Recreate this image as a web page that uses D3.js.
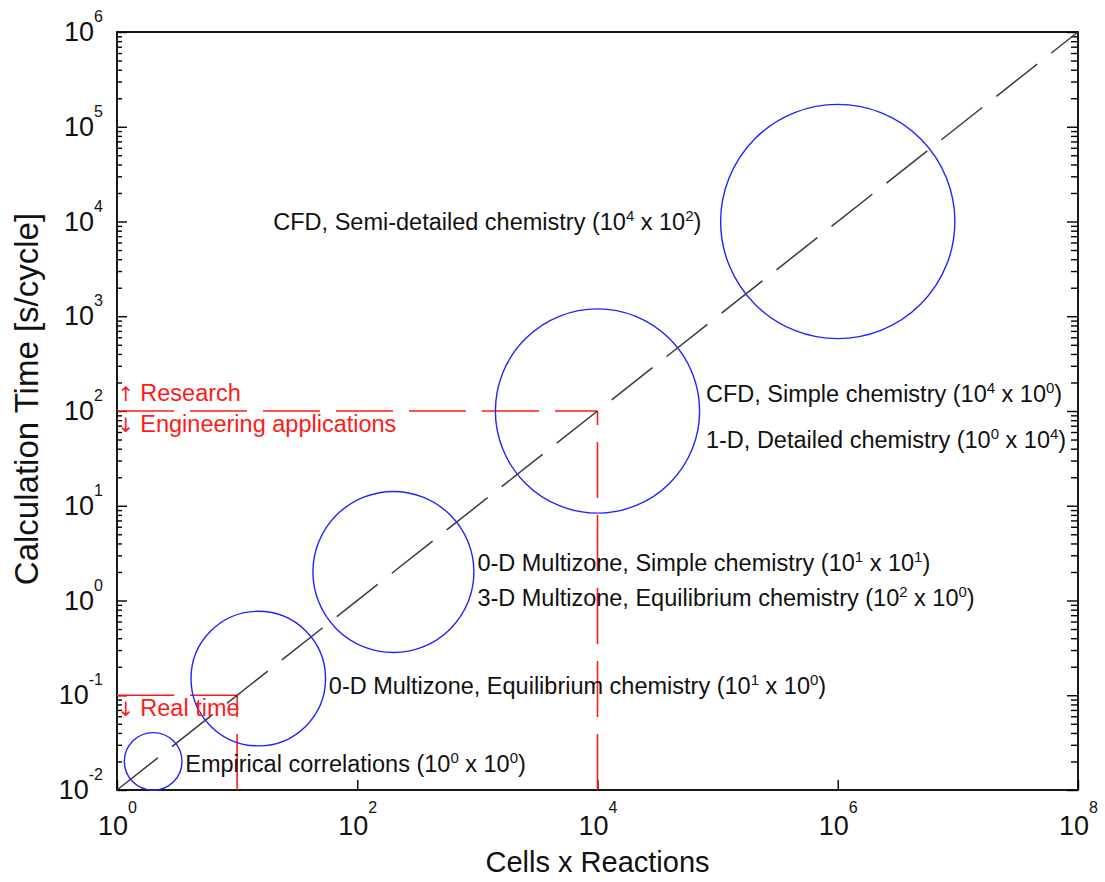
<!DOCTYPE html>
<html>
<head>
<meta charset="utf-8">
<script src="https://cdn.jsdelivr.net/npm/d3@7"></script>
<style>
  body { margin: 0; background: #fff; }
  text { font-family: "Liberation Sans", Arial, Helvetica, sans-serif; }
</style>
</head>
<body>
<div id="chart"></div>
<script>
/* data: bubbles in (cells x reactions, seconds per cycle) */
var bubbleX = [2, 15, 200, 1e4, 1e6];
var bubbleY = [0.02, 0.15, 2, 100, 1e4];
var bubbleR = [0.24, 0.56, 0.67, 0.85, 0.975]; /* radius, in decades of x */

/* trend line y = x / 100 */
var trendX = [1, 1e8];
var trendY = [0.01, 1e6];

/* limits: research / engineering at 1e4 cells, 1e2 s ; real time at 10, 0.1 s */
var limitX = [1e4, 10];
var limitY = [100, 0.1];

/* tick exponents */
var xTickExp = [0, 2, 4, 6, 8];
var yTickExp = [-2, -1, 0, 1, 2, 3, 4, 5, 6];
var minorMult = [2, 3, 4, 5, 6, 7, 8, 9];

/* annotation texts, anchored in data units (left / middle) */
var labelText = [
  "CFD, Semi-detailed chemistry (10^4 x 10^2)",
  "CFD, Simple chemistry (10^4 x 10^0)",
  "1-D, Detailed chemistry (10^0 x 10^4)",
  "0-D Multizone, Simple chemistry (10^1 x 10^1)",
  "3-D Multizone, Equilibrium chemistry (10^2 x 10^0)",
  "0-D Multizone, Equilibrium chemistry (10^1 x 10^0)",
  "Empirical correlations (10^0 x 10^0)"
];
var labelX = [20, 8e4, 8e4, 1e3, 1e3, 58, 3.7];
var labelY = [1e4, 150, 50, 2.5, 1.05, 0.125, 0.019];

var limitArrow = ["\u2191", "\u2193", "\u2193"];
var limitText = ["Research", "Engineering applications", "Real time"];
var limitTextX = [1.01, 1.01, 1.01];
var limitTextY = [155, 73, 0.073];

var xTitle = "Cells x Reactions";
var yTitle = "Calculation Time [s/cycle]";

/* setup */
var W = 1105, H = 882;
var padL = 117, padR = 1078, padT = 32, padB = 790;

var svg = d3.select("#chart").append("svg")
    .attr("width", W)
    .attr("height", H);

var x = d3.scaleLog().domain([1, 1e8]).range([padL, padR]);
var y = d3.scaleLog().domain([0.01, 1e6]).range([padB, padT]);

/* write "10^4" style strings with superscripts */
function rich(sel, str, supSize, raise) {
  var parts = str.split(/(\^-?\d+)/);
  var up = false;
  parts.forEach(function (p) {
    if (!p) return;
    if (p[0] === "^") {
      sel.append("tspan").attr("dy", -raise).style("font-size", supSize + "px").text(p.slice(1));
      up = true;
    } else {
      var ts = sel.append("tspan").text(p);
      if (up) ts.attr("dy", raise);
      up = false;
    }
  });
}

var xMajor = xTickExp.map(function (e) { return Math.pow(10, e); });
var yMajor = yTickExp.map(function (e) { return Math.pow(10, e); });
var yMinor = [];
yTickExp.slice(0, -1).forEach(function (e) {
  minorMult.forEach(function (k) { yMinor.push(k * Math.pow(10, e)); });
});

/* axes */
var gx = svg.append("g")
    .attr("transform", "translate(0," + padB + ")")
    .call(d3.axisBottom(x).tickValues(xMajor).tickSize(-10).tickPadding(26));
var gy = svg.append("g")
    .attr("transform", "translate(" + padL + ",0)")
    .call(d3.axisLeft(y).tickValues(yMajor).tickSize(-10).tickPadding(14));
svg.append("g")
    .attr("class", "minor")
    .attr("transform", "translate(" + padL + ",0)")
    .call(d3.axisLeft(y).tickValues(yMinor).tickSize(-5).tickFormat(function () { return ""; }));
svg.append("g")
    .attr("transform", "translate(" + padR + ",0)")
    .call(d3.axisRight(y).tickValues(yMajor).tickSize(-11).tickFormat(function () { return ""; }));
svg.append("g")
    .attr("class", "minor")
    .attr("transform", "translate(" + padR + ",0)")
    .call(d3.axisRight(y).tickValues(yMinor).tickSize(-7).tickFormat(function () { return ""; }));

svg.selectAll(".domain").remove();
svg.selectAll(".tick line").attr("stroke", "#000").attr("stroke-width", 1.4);

gx.selectAll(".tick text").each(function (d) {
  var t = d3.select(this).text("");
  rich(t, "10^" + Math.round(Math.log10(d)), 16, 22);
}).attr("fill", "#111").style("font-size", "27px");
gy.selectAll(".tick text").each(function (d) {
  var t = d3.select(this).text("");
  rich(t, "10^" + Math.round(Math.log10(d)), 16, 19);
}).attr("fill", "#111").style("font-size", "27px");

/* frame */
svg.append("rect")
    .attr("x", padL).attr("y", padT)
    .attr("width", padR - padL).attr("height", padB - padT)
    .attr("fill", "none").attr("stroke", "#000").attr("stroke-width", 1.8);

/* red limit lines */
var red = "#ff1a1a";
limitX.forEach(function (lx, i) {
  var ly = limitY[i];
  svg.append("line")
      .attr("x1", x(1)).attr("y1", y(ly))
      .attr("x2", x(lx)).attr("y2", y(ly))
      .attr("stroke", red).attr("stroke-width", 1.6)
      .attr("stroke-dasharray", "57,16");
  svg.append("line")
      .attr("x1", x(lx)).attr("y1", y(0.01))
      .attr("x2", x(lx)).attr("y2", y(ly))
      .attr("stroke", red).attr("stroke-width", 1.6)
      .attr("stroke-dasharray", "56,17");
});

/* trend line */
var line = d3.line()
    .x(function (d) { return x(d[0]); })
    .y(function (d) { return y(d[1]); });
svg.append("path")
    .datum(d3.zip(trendX, trendY))
    .attr("d", line)
    .attr("fill", "none")
    .attr("stroke", "#3a3a3a")
    .attr("stroke-width", 1.5)
    .attr("stroke-dasharray", "52,18");

/* bubbles */
svg.selectAll("circle.bubble")
    .data(d3.range(bubbleX.length))
    .enter().append("circle")
    .attr("class", "bubble")
    .attr("cx", function (i) { return x(bubbleX[i]); })
    .attr("cy", function (i) { return y(bubbleY[i]); })
    .attr("r", function (i) { return x(Math.pow(10, bubbleR[i])) - x(1); })
    .attr("fill", "none")
    .attr("stroke", "#2222ff")
    .attr("stroke-width", 1.4);

/* annotations */
labelText.forEach(function (s, i) {
  var t = svg.append("text")
      .attr("x", x(labelX[i]))
      .attr("y", y(labelY[i]) + 8)
      .attr("fill", "#111")
      .style("font-size", "23.5px");
  rich(t, s, 15, 9);
});

limitText.forEach(function (s, i) {
  var t = svg.append("text")
      .attr("x", x(limitTextX[i]))
      .attr("y", y(limitTextY[i]) + 8)
      .attr("fill", red)
      .style("font-size", "23.5px");
  t.append("tspan")
      .style("font-family", "'DejaVu Sans', sans-serif")
      .style("font-size", "20px")
      .text(limitArrow[i]);
  t.append("tspan").attr("dx", 6).text(s);
});

/* axis titles */
svg.append("text")
    .attr("x", (padL + padR) / 2)
    .attr("y", 872)
    .attr("text-anchor", "middle")
    .attr("fill", "#111")
    .style("font-size", "29px")
    .text(xTitle);

svg.append("text")
    .attr("transform", "translate(38,399) rotate(-90)")
    .attr("text-anchor", "middle")
    .attr("fill", "#111")
    .style("font-size", "33px")
    .text(yTitle);
</script>
</body>
</html>
